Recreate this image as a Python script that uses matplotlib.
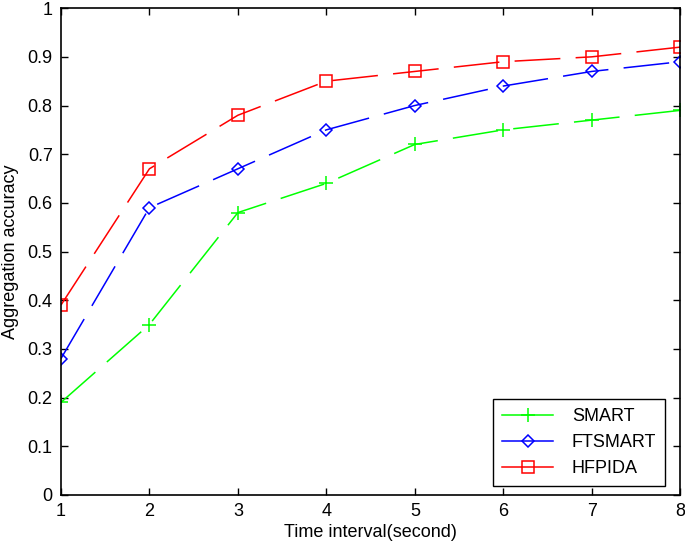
import numpy as np
import matplotlib.pyplot as plt

plt.rcParams['font.family'] = ['Liberation Sans', 'DejaVu Sans']

# --- data ---
time_interval = [1, 2, 3, 4, 5, 6, 7, 8]
smart = [0.19, 0.35, 0.58, 0.64, 0.72, 0.75, 0.77, 0.79]
ftsmart = [0.28, 0.59, 0.67, 0.75, 0.80, 0.84, 0.87, 0.89]
hfpida = [0.39, 0.67, 0.78, 0.85, 0.87, 0.89, 0.90, 0.92]
y_ticks = np.round(np.arange(0, 1.01, 0.1), 1)
y_tick_labels = ['0'] + ['%.1f' % v for v in y_ticks[1:-1]] + ['1']

fig = plt.figure(figsize=(6.85, 5.45), dpi=100)
ax = fig.add_axes([0.089, 0.092, 0.904, 0.893])

dash = (30, 10)
ax.plot(time_interval, smart, color='#00ff00', marker='+', markersize=10,
        linewidth=1.1, dashes=dash, markeredgewidth=1.1)
ax.plot(time_interval, ftsmart, color='#0000ff', marker='D', markersize=6,
        markerfacecolor='none', linewidth=1.1, dashes=dash, markeredgewidth=1.1)
ax.plot(time_interval, hfpida, color='#ff0000', marker='s', markersize=8.5,
        markerfacecolor='none', linewidth=1.1, dashes=dash, markeredgewidth=1.1)

ax.set_xlim(1, 8)
ax.set_ylim(0, 1)
ax.set_xticks(time_interval)
ax.set_yticks(y_ticks)
ax.set_yticklabels(y_tick_labels)
ax.tick_params(direction='in', top=True, right=True, labelsize=13, length=5,
               width=1, pad=6)
for s in ax.spines.values():
    s.set_linewidth(1.2)

ax.set_xlabel('Time interval(second)', fontsize=13, labelpad=3)
ax.set_ylabel('Aggregation accuracy', fontsize=13, labelpad=6)

leg = ax.legend(['SMART', 'FTSMART', 'HFPIDA'], loc='lower right',
                bbox_to_anchor=(0.976, 0.018), fontsize=13, fancybox=False,
                edgecolor='black', framealpha=1, handlelength=2.8,
                handletextpad=1.05, borderpad=0.5, labelspacing=0.5,
                borderaxespad=0)
leg.get_frame().set_linewidth(1)
for h in leg.get_lines():
    h.set_linestyle('-')

fig.savefig('out.png', dpi=100)
